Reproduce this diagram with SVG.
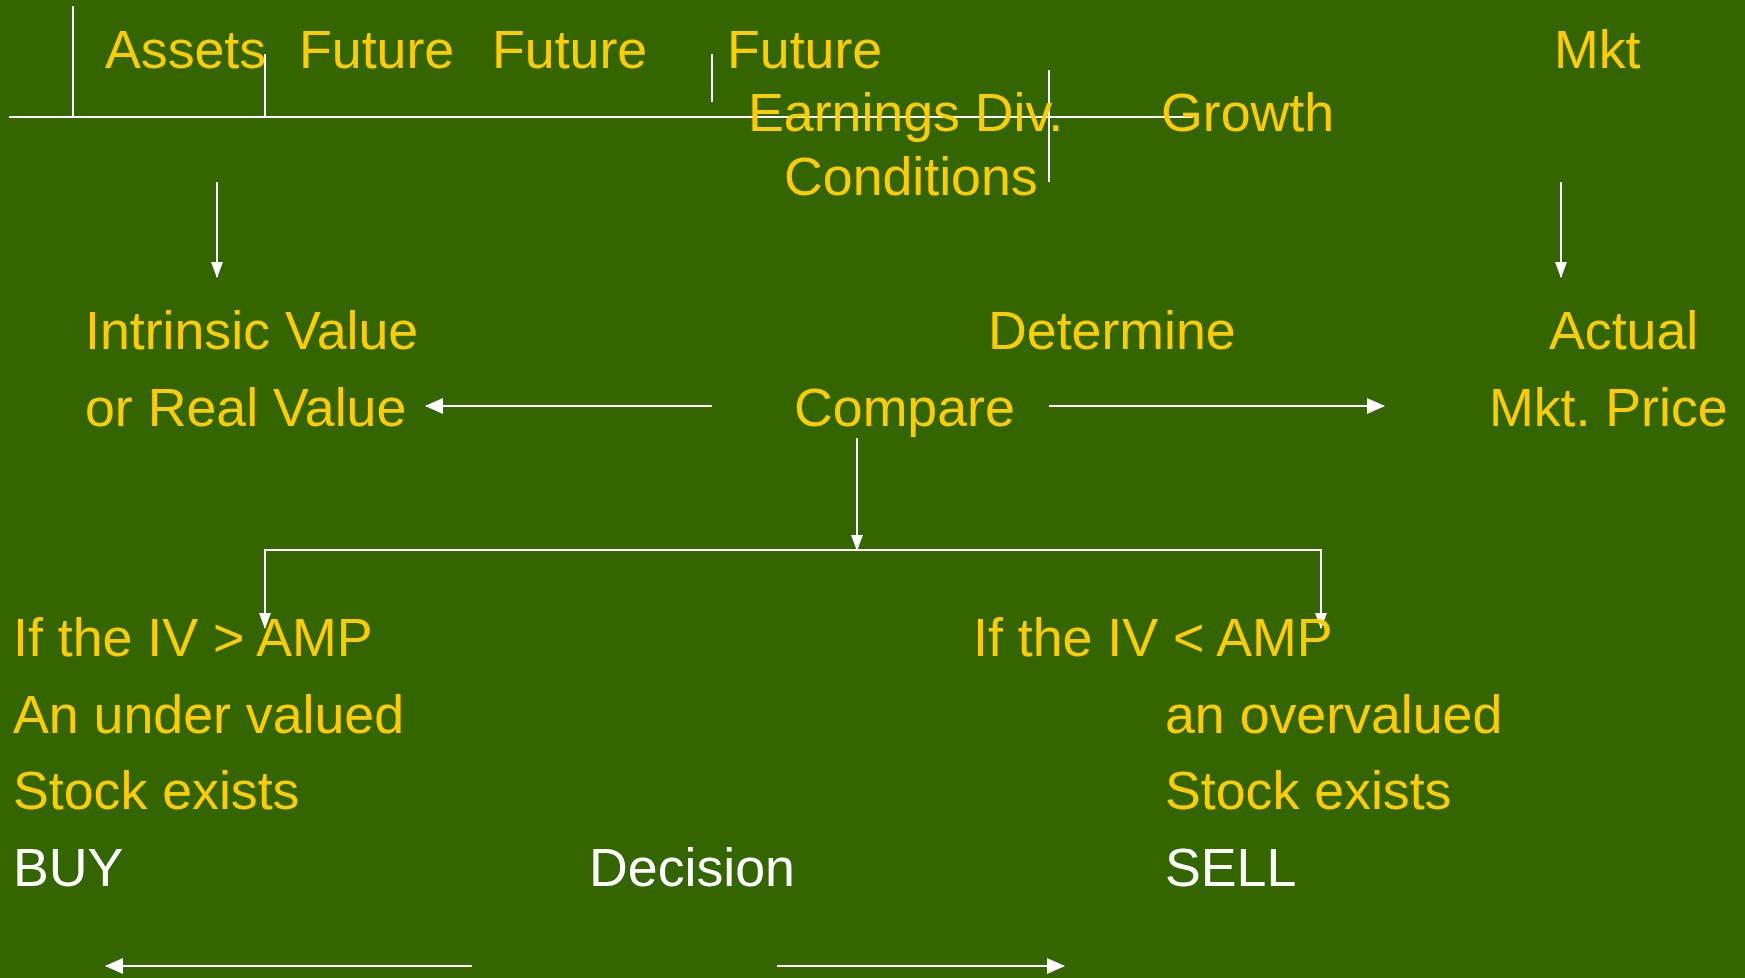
<svg xmlns="http://www.w3.org/2000/svg" width="1745" height="978" viewBox="0 0 1745 978">
  <defs>
    <style>
      .t { font-family: "Liberation Sans", Arial, sans-serif; font-size: 53.7px; fill: #FFCC00; }
      .w { fill: #FFFFFF; }
      .ln { stroke: #FFFFFF; stroke-width: 2; fill: none; }
    </style>
    <marker id="ah" markerUnits="userSpaceOnUse" markerWidth="18" markerHeight="16" refX="17" refY="8" orient="auto">
      <path d="M0,0 L18,8 L0,16 Z" fill="#FFFFFF"/>
    </marker>
    <marker id="ahs" markerUnits="userSpaceOnUse" markerWidth="16" markerHeight="12" refX="15" refY="6" orient="auto">
      <path d="M0,0 L16,6 L0,12 Z" fill="#FFFFFF"/>
    </marker>
  </defs>

  <rect width="1745" height="978" fill="#336600"/>

  <!-- connectors -->
  <g id="connectors">
    <!-- top bracket lines -->
    <line class="ln" x1="9" y1="117" x2="1193" y2="117" stroke-width="2.5"/>
    <line class="ln" x1="73" y1="6" x2="73" y2="117"/>
    <line class="ln" x1="265" y1="54" x2="265" y2="117"/>
    <line class="ln" x1="712" y1="54" x2="712" y2="102"/>
    <line class="ln" x1="1049" y1="70" x2="1049" y2="182"/>
    <!-- down to the two value boxes -->
    <line class="ln" x1="217" y1="182" x2="217" y2="277" marker-end="url(#ahs)"/>
    <line class="ln" x1="1561" y1="182" x2="1561" y2="277" marker-end="url(#ahs)"/>
    <!-- compare left / right -->
    <line class="ln" x1="712" y1="406" x2="426" y2="406" stroke-width="2.5" marker-end="url(#ah)"/>
    <line class="ln" x1="1049" y1="406" x2="1384" y2="406" stroke-width="2.5" marker-end="url(#ah)"/>
    <!-- compare down and split -->
    <line class="ln" x1="857" y1="438" x2="857" y2="550" marker-end="url(#ahs)"/>
    <line class="ln" x1="265" y1="550" x2="1321" y2="550"/>
    <line class="ln" x1="265" y1="549" x2="265" y2="628" marker-end="url(#ahs)"/>
    <line class="ln" x1="1321" y1="549" x2="1321" y2="628" marker-end="url(#ahs)"/>
    <!-- decision arrows -->
    <line class="ln" x1="472" y1="966" x2="106" y2="966" stroke-width="2.5" marker-end="url(#ah)"/>
    <line class="ln" x1="777" y1="966" x2="1064" y2="966" stroke-width="2.5" marker-end="url(#ah)"/>
  </g>

  <g id="assets"><text class="t" x="105" y="68">Assets</text></g>
  <g id="future-1"><text class="t" x="299" y="68">Future</text></g>
  <g id="future-2"><text class="t" x="492" y="68">Future</text></g>
  <g id="future-3"><text class="t" x="727" y="68">Future</text></g>
  <g id="mkt"><text class="t" x="1554" y="68">Mkt</text></g>
  <g id="earnings"><text class="t" x="748" y="131">Earnings Div.</text></g>
  <g id="growth"><text class="t" x="1161" y="131">Growth</text></g>
  <g id="conditions"><text class="t" x="784" y="195">Conditions</text></g>

  <g id="intrinsic-value">
    <text class="t" x="85" y="349">Intrinsic Value</text>
    <text class="t" x="85" y="426">or Real Value</text>
  </g>
  <g id="determine"><text class="t" x="988" y="349">Determine</text></g>
  <g id="compare"><text class="t" x="794" y="426">Compare</text></g>
  <g id="market-price">
    <text class="t" x="1549" y="349">Actual</text>
    <text class="t" x="1489" y="426">Mkt. Price</text>
  </g>

  <g id="undervalued">
    <text class="t" x="13" y="656">If the IV &gt; AMP</text>
    <text class="t" x="13" y="733">An under valued</text>
    <text class="t" x="13" y="809">Stock exists</text>
    <text class="t w" x="13" y="886">BUY</text>
  </g>
  <g id="decision"><text class="t w" x="589" y="886">Decision</text></g>
  <g id="overvalued">
    <text class="t" x="973" y="656">If the IV &lt; AMP</text>
    <text class="t" x="1165" y="733">an overvalued</text>
    <text class="t" x="1165" y="809">Stock exists</text>
    <text class="t w" x="1165" y="886">SELL</text>
  </g>
</svg>
